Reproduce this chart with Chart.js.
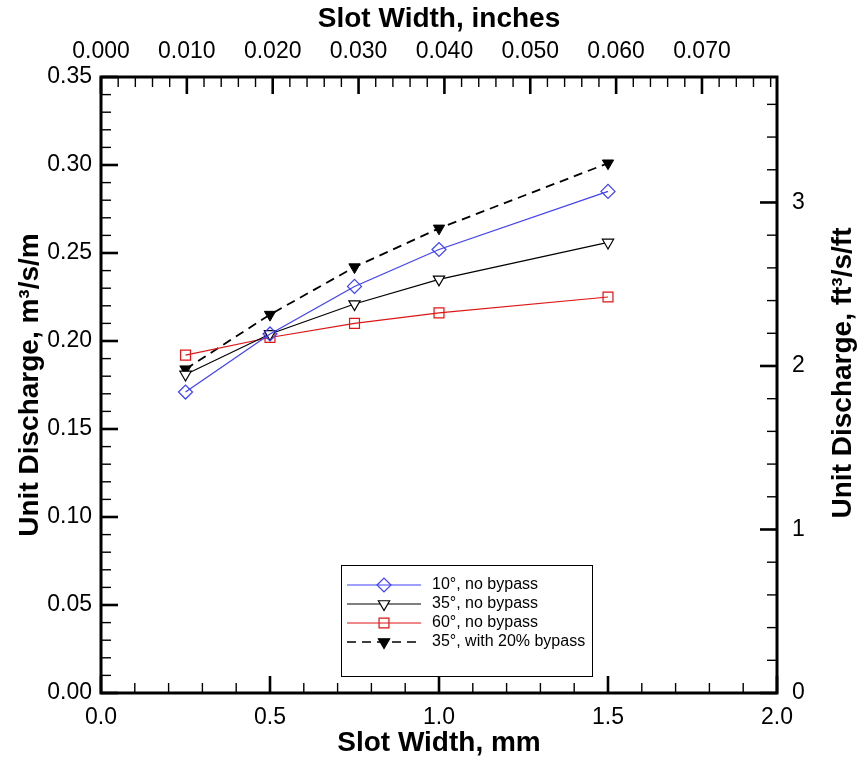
<!DOCTYPE html>
<html>
<head>
<meta charset="utf-8">
<script src="https://cdn.jsdelivr.net/npm/chart.js@4.4.1/dist/chart.umd.min.js"></script>
<style>
  body { margin: 0; background: #fff; }
  #wrap { width: 860px; height: 763px; }
</style>
</head>
<body>
<div id="wrap"><canvas id="myChart" width="860" height="763"></canvas></div>
<script>
// slot width, mm
const slotWidth = [0.25, 0.5, 0.75, 1.0, 1.5];
// unit discharge, m3/s/m
const deg10 = [0.171, 0.204, 0.231, 0.252, 0.285];
const deg35 = [0.181, 0.204, 0.221, 0.235, 0.256];
const deg60 = [0.192, 0.202, 0.210, 0.216, 0.225];
const deg35bypass = [0.184, 0.215, 0.242, 0.264, 0.301];
const seriesNames = ['10°, no bypass', '35°, no bypass', '60°, no bypass', '35°, with 20% bypass'];

const MM_PER_IN = 25.4;
const FT_PER_M = 3.28084;
const xMax = 2.0;
const yMax = 0.35;

const font = '"Liberation Sans", Arial, sans-serif';
const blue = '#4040ff';
const red = '#e01515';

function pts(ys) {
  return slotWidth.map((x, i) => ({ x: x, y: ys[i] }));
}

const data = {
  datasets: [
    {
      label: seriesNames[0], data: pts(deg10), showLine: true,
      borderColor: blue, borderWidth: 1.2, backgroundColor: 'rgba(0,0,0,0)',
      pointStyle: 'rectRot', pointRadius: 7, pointBorderWidth: 1.2, pointBorderColor: blue
    },
    {
      label: seriesNames[1], data: pts(deg35), showLine: true,
      borderColor: '#000', borderWidth: 1.2, backgroundColor: '#fff',
      pointStyle: 'triangle', pointRotation: 180, pointRadius: 6.5, pointBorderWidth: 1.2, pointBorderColor: '#000'
    },
    {
      label: seriesNames[2], data: pts(deg60), showLine: true,
      borderColor: red, borderWidth: 1.2, backgroundColor: 'rgba(0,0,0,0)',
      pointStyle: 'rect', pointRadius: 7, pointBorderWidth: 1.2, pointBorderColor: red
    },
    {
      label: seriesNames[3], data: pts(deg35bypass), showLine: true,
      borderColor: '#000', borderWidth: 1.8, borderDash: [9, 6], backgroundColor: '#000',
      pointStyle: 'triangle', pointRotation: 180, pointRadius: 6.5, pointBorderWidth: 1, pointBorderColor: '#000'
    }
  ]
};

// inward tick marks + frame
const tickSpec = {
  x: { minor: 0.1, every: 5, side: 'bottom' },
  x2: { minor: 0.002, every: 5, side: 'top' },
  y: { minor: 0.01, every: 5, side: 'left' },
  y2: { minor: 0.2, every: 5, side: 'right' }
};

const frameTicks = {
  id: 'frameTicks',
  afterDatasetsDraw(chart) {
    const ctx = chart.ctx;
    const a = chart.chartArea;
    ctx.save();
    ctx.strokeStyle = '#000';
    Object.keys(tickSpec).forEach((id) => {
      const sc = chart.scales[id];
      const t = tickSpec[id];
      const n = Math.floor(sc.max / t.minor + 1e-6);
      for (let i = 0; i <= n; i++) {
        const v = i * t.minor;
        const major = i % t.every === 0;
        const len = major ? 17 : 10;
        ctx.lineWidth = major ? 2.6 : 1.4;
        const p = sc.getPixelForValue(v);
        ctx.beginPath();
        if (t.side === 'bottom') { ctx.moveTo(p, a.bottom); ctx.lineTo(p, a.bottom - len); }
        if (t.side === 'top') { ctx.moveTo(p, a.top); ctx.lineTo(p, a.top + len); }
        if (t.side === 'left') { ctx.moveTo(a.left, p); ctx.lineTo(a.left + len, p); }
        if (t.side === 'right') { ctx.moveTo(a.right, p); ctx.lineTo(a.right - len, p); }
        ctx.stroke();
      }
    });
    ctx.lineWidth = 3;
    ctx.strokeRect(a.left, a.top, a.right - a.left, a.bottom - a.top);

    // right axis title, reads bottom to top
    ctx.fillStyle = '#000';
    ctx.font = 'bold 28px ' + font;
    ctx.textAlign = 'center';
    ctx.textBaseline = 'middle';
    ctx.translate(843, (a.top + a.bottom) / 2 - 12);
    ctx.rotate(-Math.PI / 2);
    ctx.fillText('Unit Discharge, ft³/s/ft', 0, 0);
    ctx.restore();
  }
};

// legend box inside the plot
const boxLegend = {
  id: 'boxLegend',
  afterDraw(chart) {
    const ctx = chart.ctx;
    const a = chart.chartArea;
    const bx = a.left + 240, by = a.top + 488, bw = 251, bh = 111;
    ctx.save();
    ctx.fillStyle = '#fff';
    ctx.fillRect(bx, by, bw, bh);
    ctx.strokeStyle = '#000';
    ctx.lineWidth = 1;
    ctx.strokeRect(bx + 0.5, by + 0.5, bw, bh);
    chart.data.datasets.forEach((ds, i) => {
      const y = by + 20 + i * 19;
      ctx.save();
      ctx.strokeStyle = ds.borderColor;
      ctx.lineWidth = ds.borderWidth > 1.5 ? 1.6 : 1.2;
      ctx.setLineDash(ds.borderDash || []);
      ctx.beginPath();
      ctx.moveTo(bx + 6, y);
      ctx.lineTo(bx + 80, y);
      ctx.stroke();
      ctx.restore();
      ctx.save();
      ctx.strokeStyle = ds.pointBorderColor;
      ctx.fillStyle = ds.backgroundColor;
      ctx.lineWidth = 1.2;
      Chart.helpers.drawPoint(ctx, {
        pointStyle: ds.pointStyle, rotation: ds.pointRotation || 0,
        radius: ds.pointRadius, borderWidth: 1.2
      }, bx + 43, y);
      ctx.restore();
      ctx.fillStyle = '#000';
      ctx.font = '16px ' + font;
      ctx.textAlign = 'left';
      ctx.textBaseline = 'middle';
      ctx.fillText(ds.label, bx + 91, y);
    });
    ctx.restore();
  }
};

const tickFont = { family: font, size: 23 };
const titleFont = { family: font, size: 28, weight: 'bold' };
const gridOff = { display: true, drawOnChartArea: false, drawTicks: false };

const options = {
  responsive: false,
  devicePixelRatio: 1,
  animation: false,
  layout: { padding: 0 },
  plugins: { legend: { display: false }, tooltip: { enabled: false } },
  scales: {
    x: {
      type: 'linear', position: 'bottom', min: 0, max: xMax,
      grid: gridOff, border: { display: false },
      ticks: { stepSize: 0.5, color: '#000', font: tickFont, padding: 11, maxRotation: 0,
        callback: (v) => v.toFixed(1) },
      title: { display: true, text: 'Slot Width, mm', color: '#000', font: titleFont, padding: { top: 0, bottom: 3 } },
      afterFit: (s) => { s.height = 70; }
    },
    x2: {
      type: 'linear', position: 'top', min: 0, max: xMax / MM_PER_IN,
      grid: gridOff, border: { display: false },
      ticks: { stepSize: 0.01, includeBounds: false, color: '#000', font: tickFont, padding: 12, maxRotation: 0,
        callback: (v) => v.toFixed(3) },
      title: { display: true, text: 'Slot Width, inches', color: '#000', font: titleFont, padding: { top: 2, bottom: 0 } },
      afterFit: (s) => { s.height = 77; }
    },
    y: {
      type: 'linear', position: 'left', min: 0, max: yMax,
      grid: gridOff, border: { display: false },
      ticks: { stepSize: 0.05, color: '#000', font: tickFont, padding: 9,
        callback: (v) => v.toFixed(2) },
      title: { display: true, text: 'Unit Discharge, m³/s/m', color: '#000', font: titleFont, padding: { top: 13, bottom: 0 } },
      afterFit: (s) => { s.width = 101; }
    },
    y2: {
      type: 'linear', position: 'right', min: 0, max: yMax * FT_PER_M * FT_PER_M,
      grid: gridOff, border: { display: false },
      ticks: { stepSize: 1, includeBounds: false, color: '#000', font: tickFont, padding: 15,
        callback: (v) => String(v) },
      afterFit: (s) => { s.width = 83; }
    }
  }
};

const config = {
  type: 'scatter',
  data: data,
  options: options,
  plugins: [frameTicks, boxLegend]
};

let myChart = new Chart(document.querySelector('#myChart'), config);
</script>
</body>
</html>
